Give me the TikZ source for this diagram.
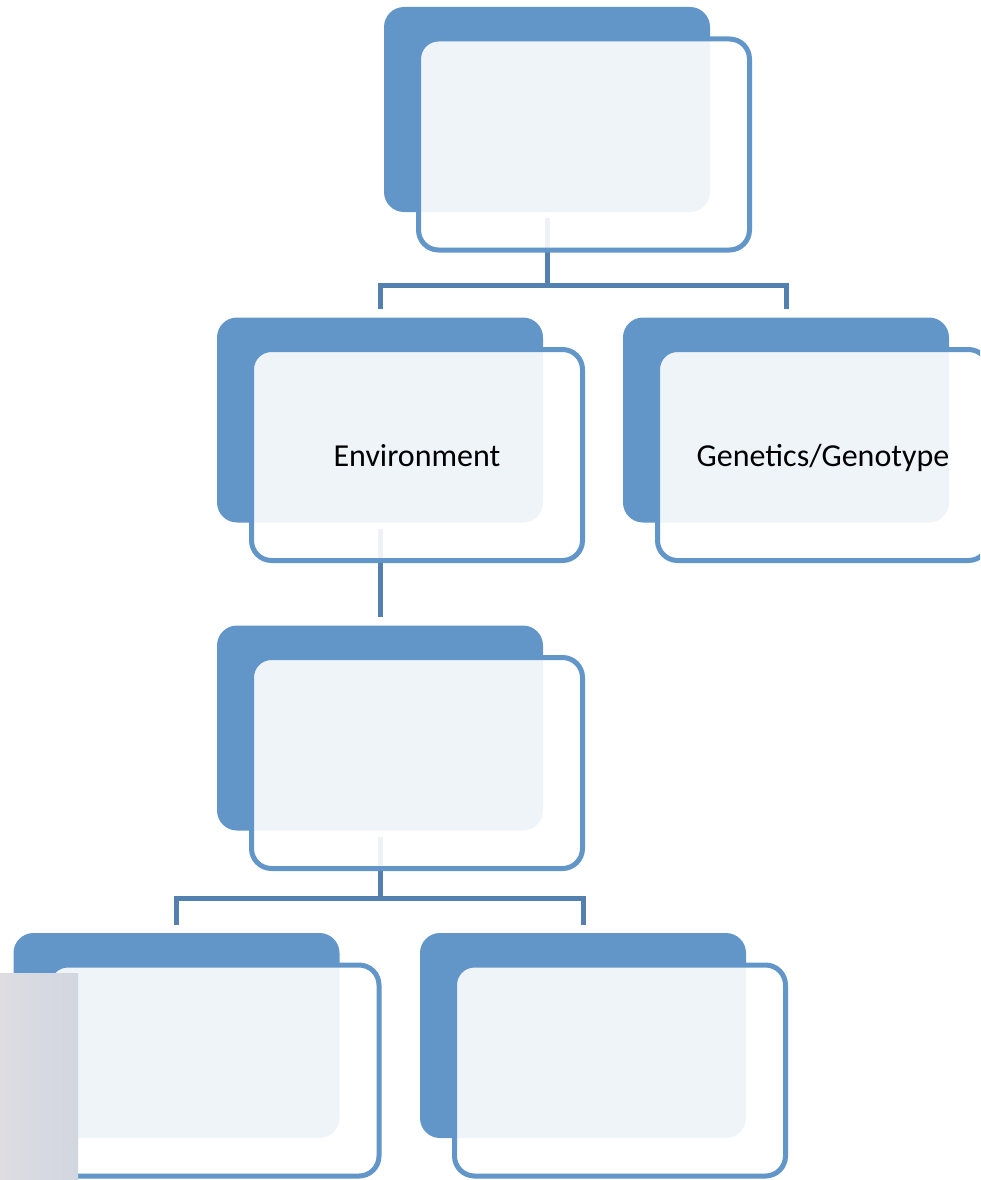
\documentclass[tikz,border=0pt]{standalone}
\usepackage{fontspec}
\setmainfont{Carlito}
\definecolor{boxblue}{RGB}{98,150,200}
\definecolor{linkblue}{RGB}{84,128,176}
\definecolor{graylight}{RGB}{221,221,226}
\definecolor{graydark}{RGB}{210,214,224}
\tikzset{
    backbox/.style={fill=boxblue, rounded corners=20pt, minimum width=326pt, minimum height=205pt, inner sep=0pt},
    frontbox/.style={draw=boxblue, line width=5pt, fill=white, fill opacity=0.9, text opacity=1,
        rounded corners=20pt, minimum width=331pt, minimum height=211pt, inner sep=0pt,
        font=\fontsize{32}{38}\selectfont},
    link/.style={draw=linkblue, line width=5pt, shorten <=6pt, shorten >=8pt}
}
\begin{document}
\begin{tikzpicture}[x=1pt,y=-1pt]
    \useasboundingbox (0,0) rectangle (980,1180);
    \clip (0,0) rectangle (980,1180);

    % back boxes
    \node[backbox] (rootb) at (547,109.5) {};
    \node[backbox] (envb) at (380,420) {};
    \node[backbox] (genb) at (786,420) {};
    \node[backbox] (midb) at (380,728) {};
    \node[backbox] (lowlb) at (176.5,1035.5) {};
    \node[backbox] (lowrb) at (583,1035.5) {};

    % connectors
    \draw[link] (rootb.south) -- ++(0,73) -| (envb.north);
    \draw[link] (rootb.south) -- ++(0,73) -| (genb.north);
    \draw[link] (envb.south) -- (midb.north);
    \draw[link] (midb.south) -- ++(0,68) -| (lowlb.north);
    \draw[link] (midb.south) -- ++(0,68) -| (lowrb.north);

    % front boxes
    \node[frontbox] (root) at ([shift={(37,35)}]rootb.center) {};
    \node[frontbox, text depth=-6pt] (env) at ([shift={(37,35)}]envb.center) {Environment};
    \node[frontbox, text depth=-6pt] (gen) at ([shift={(37,35)}]genb.center) {Genetics/Genotype};
    \node[frontbox] (mid) at ([shift={(37,35)}]midb.center) {};
    \node[frontbox] (lowl) at ([shift={(37,35)}]lowlb.center) {};
    \node[frontbox] (lowr) at ([shift={(37,35)}]lowrb.center) {};

    % gray strip
    \shade[left color=graylight, right color=graydark] (0,973) rectangle (78,1180);
\end{tikzpicture}
\end{document}
